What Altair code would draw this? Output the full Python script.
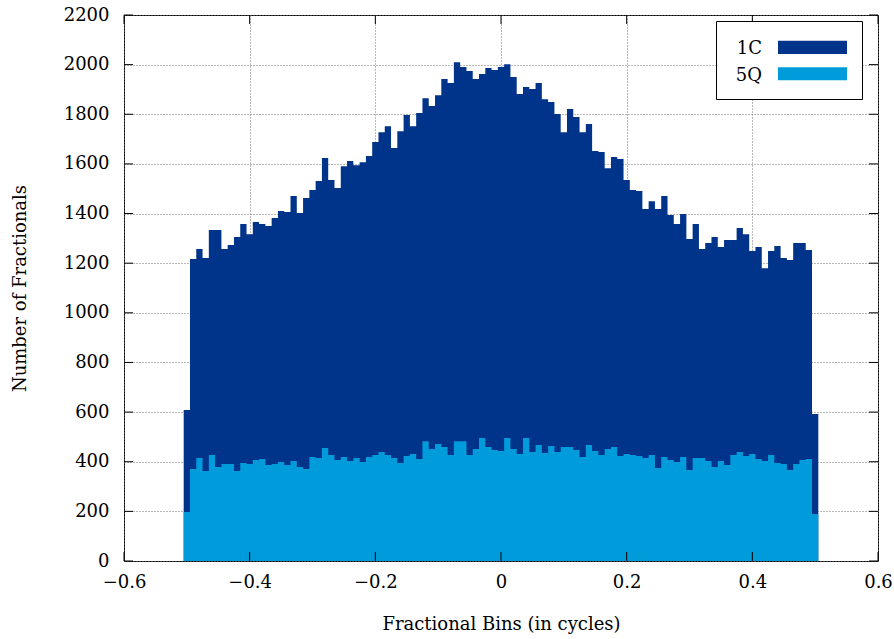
import altair as alt
import pandas as pd

# Histogram of fractional parts, 0.01-cycle bins centred on -0.50 ... 0.50
bin_centers = [round(-0.50 + 0.01 * i, 2) for i in range(101)]
bin_half_width = 0.005

counts_1c = [
    608, 1217, 1257, 1221, 1334, 1334, 1257, 1273, 1305, 1358,
    1317, 1366, 1358, 1350, 1382, 1410, 1406, 1471, 1402, 1463,
    1495, 1531, 1624, 1535, 1503, 1591, 1612, 1595, 1607, 1632,
    1688, 1728, 1752, 1664, 1732, 1797, 1752, 1805, 1865, 1833,
    1877, 1942, 1926, 2010, 1990, 1974, 1942, 1962, 1986, 1978,
    1990, 2002, 1950, 1882, 1910, 1902, 1926, 1861, 1849, 1801,
    1728, 1821, 1789, 1728, 1761, 1652, 1648, 1583, 1628, 1620,
    1535, 1495, 1491, 1418, 1450, 1418, 1471, 1394, 1358, 1398,
    1297, 1358, 1257, 1281, 1305, 1265, 1293, 1293, 1342, 1317,
    1249, 1265, 1180, 1249, 1269, 1221, 1213, 1281, 1281, 1253,
    592,
]

counts_5q = [
    197, 371, 415, 363, 427, 379, 391, 391, 363, 395,
    391, 407, 411, 387, 391, 399, 387, 403, 379, 371,
    419, 415, 455, 427, 407, 419, 403, 415, 399, 419,
    427, 439, 427, 415, 395, 423, 431, 411, 483, 451,
    471, 459, 427, 483, 483, 427, 451, 496, 459, 447,
    443, 496, 451, 431, 496, 439, 467, 435, 463, 439,
    459, 459, 447, 419, 467, 443, 427, 451, 459, 423,
    431, 427, 423, 415, 427, 375, 419, 407, 399, 419,
    367, 415, 415, 403, 379, 403, 387, 427, 439, 423,
    431, 411, 403, 427, 395, 391, 367, 391, 407, 411,
    189,
]

series_names = ["1C", "5Q"]
series_colors = ["#00338a", "#009bdb"]

x_ticks = [-0.6, -0.4, -0.2, 0.0, 0.2, 0.4, 0.6]
y_ticks = [0, 200, 400, 600, 800, 1000, 1200, 1400, 1600, 1800, 2000, 2200]

FONT = "DejaVu Serif"
FS = 18
W, H = 754, 546


def step_outline(name, counts):
    """Left bin edges plus the closing right edge, for a step-after area."""
    edges = [round(c - bin_half_width, 3) for c in bin_centers]
    edges.append(round(bin_centers[-1] + bin_half_width, 3))
    return pd.DataFrame({
        "edge": edges,
        "count": list(counts) + [counts[-1]],
        "series": name,
    })


outline = pd.concat([
    step_outline(series_names[0], counts_1c),
    step_outline(series_names[1], counts_5q),
], ignore_index=True)

x_scale = alt.Scale(domain=[-0.6, 0.6], nice=False, zero=False)
y_scale = alt.Scale(domain=[0, 2200], nice=False)
color_scale = alt.Scale(domain=series_names, range=series_colors)

grid_style = dict(grid=True, gridDash=[1, 2], gridColor="#707070", gridOpacity=1)
label_style = dict(labelFont=FONT, labelFontSize=FS, labelColor="#000", labelFlush=False)
title_style = dict(titleFont=FONT, titleFontSize=FS, titleFontWeight="normal", titleColor="#000")

x_axis = alt.Axis(
    values=x_ticks, format="~g", title="Fractional Bins (in cycles)",
    ticks=False, domain=False, labelPadding=12,
    titleY=63, titleBaseline="middle",
    **grid_style, **label_style, **title_style,
)
y_axis = alt.Axis(
    values=y_ticks, format="d", title="Number of Fractionals",
    ticks=False, domain=False, labelPadding=15,
    titleX=-104, titleY=273, titleBaseline="middle", titleAngle=270,
    **grid_style, **label_style, **title_style,
)

bars = alt.Chart(outline).mark_area(interpolate="step-after", opacity=1).encode(
    x=alt.X("edge:Q", scale=x_scale, axis=x_axis),
    y=alt.Y("count:Q", scale=y_scale, axis=y_axis, stack=None),
    y2=alt.datum(0),
    color=alt.Color("series:N", scale=color_scale, legend=None),
    detail="series:N",
)

# inward tick marks on all four sides
yt = pd.DataFrame({"v": y_ticks})
xt = pd.DataFrame({"v": x_ticks})
tick_len = 9
y_ticks_left = alt.Chart(yt).mark_rule(color="#000", strokeWidth=1).encode(
    y=alt.Y("v:Q", scale=y_scale), x=alt.value(0), x2=alt.value(tick_len))
y_ticks_right = alt.Chart(yt).mark_rule(color="#000", strokeWidth=1).encode(
    y=alt.Y("v:Q", scale=y_scale), x=alt.value(W - tick_len), x2=alt.value(W))
x_ticks_bottom = alt.Chart(xt).mark_rule(color="#000", strokeWidth=1).encode(
    x=alt.X("v:Q", scale=x_scale), y=alt.value(H - tick_len), y2=alt.value(H))
x_ticks_top = alt.Chart(xt).mark_rule(color="#000", strokeWidth=1).encode(
    x=alt.X("v:Q", scale=x_scale), y=alt.value(0), y2=alt.value(tick_len))

# legend box inside the top-right corner
legend_df = pd.DataFrame({"series": series_names, "color": series_colors})
box = alt.Chart(pd.DataFrame({"k": [0]})).mark_rect(
    fill="white", stroke="#000", strokeWidth=1
).encode(x=alt.value(592.5), x2=alt.value(738.5), y=alt.value(6.5), y2=alt.value(84.5))

swatch_1 = alt.Chart(legend_df.iloc[[0]]).mark_rect(color=series_colors[0]).encode(
    x=alt.value(654), x2=alt.value(723), y=alt.value(25.7), y2=alt.value(39))
swatch_2 = alt.Chart(legend_df.iloc[[1]]).mark_rect(color=series_colors[1]).encode(
    x=alt.value(654), x2=alt.value(723), y=alt.value(52.3), y2=alt.value(65.3))
label_1 = alt.Chart(legend_df.iloc[[0]]).mark_text(
    font=FONT, fontSize=FS, align="right", baseline="alphabetic", color="#000"
).encode(text="series:N", x=alt.value(638), y=alt.value(39))
label_2 = alt.Chart(legend_df.iloc[[1]]).mark_text(
    font=FONT, fontSize=FS, align="right", baseline="alphabetic", color="#000"
).encode(text="series:N", x=alt.value(638), y=alt.value(65.5))

chart = alt.layer(
    bars, y_ticks_left, y_ticks_right, x_ticks_bottom, x_ticks_top,
    box, swatch_1, swatch_2, label_1, label_2,
).properties(
    width=W, height=H,
    autosize=alt.AutoSizeParams(type="none"),
    padding={"left": 124, "top": 15, "right": 16, "bottom": 78},
    background="white",
).configure_view(stroke="#000", strokeWidth=1)

chart.save("out.html", embed_options={"renderer": "svg", "actions": False})
